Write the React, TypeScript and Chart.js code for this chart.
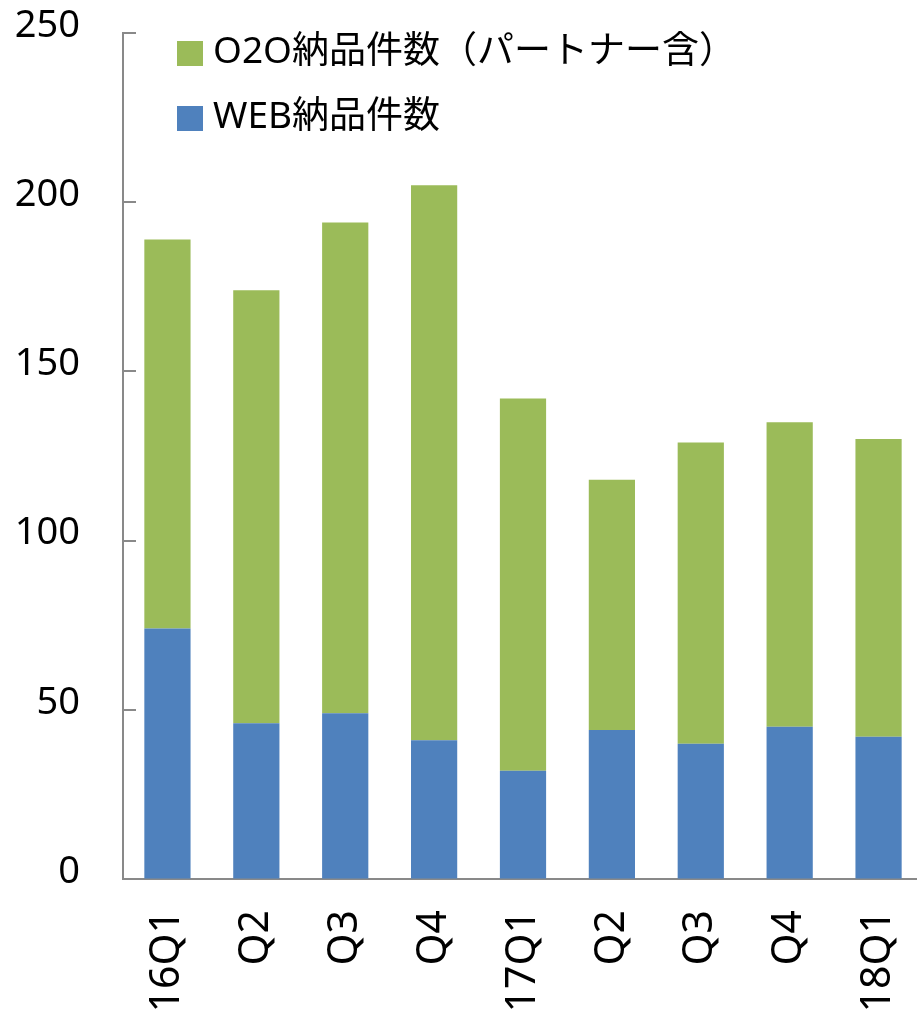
import React, { useEffect, useRef } from "react";
import { Chart, registerables } from "chart.js";

Chart.register(...registerables);

const categories = ["16Q1", "Q2", "Q3", "Q4", "17Q1", "Q2", "Q3", "Q4", "18Q1"];
const webValues = [74, 46, 49, 41, 32, 44, 40, 45, 42];
const o2oValues = [115, 128, 145, 164, 110, 74, 89, 90, 88];
const webLabel = "WEB納品件数";
const o2oLabel = "O2O納品件数（パートナー含）";
const webColor = "#4F81BD";
const o2oColor = "#9BBB59";
const axisColor = "#898989";

const legendPlugin = {
  id: "customLegend",
  afterDraw(chart: any) {
    const { ctx, chartArea } = chart;
    const items = [
      { label: o2oLabel, color: o2oColor },
      { label: webLabel, color: webColor },
    ];
    ctx.save();
    items.forEach((it, i) => {
      const boxX = chartArea.left + 54;
      const boxY = chartArea.top + 8 + i * 65;
      ctx.fillStyle = it.color;
      ctx.fillRect(boxX, boxY, 26, 25);
      ctx.fillStyle = "#000";
      ctx.font = "37px 'Noto Sans', 'Noto Sans CJK JP'";
      ctx.textBaseline = "middle";
      ctx.textAlign = "left";
      ctx.fillText(it.label, boxX + 36, boxY + 11);
    });
    ctx.restore();
  },
};

const innerTicksPlugin = {
  id: "innerTicks",
  afterDatasetsDraw(chart: any) {
    const { ctx, scales, chartArea } = chart;
    const y = scales.y;
    ctx.save();
    ctx.strokeStyle = axisColor;
    ctx.lineWidth = 2;
    y.ticks.forEach((t: any) => {
      const py = Math.round(y.getPixelForValue(t.value));
      ctx.beginPath();
      ctx.moveTo(chartArea.left, py);
      ctx.lineTo(chartArea.left + 13, py);
      ctx.stroke();
    });
    ctx.restore();
  },
};

export default function App() {
  const ref = useRef<HTMLCanvasElement>(null);
  useEffect(() => {
    if (!ref.current) return;
    const chart = new Chart(ref.current, {
      type: "bar",
      data: {
        labels: categories,
        datasets: [
          {
            label: webLabel,
            data: webValues,
            backgroundColor: webColor,
            borderWidth: 0,
            barPercentage: 0.52,
            categoryPercentage: 1,
          },
          {
            label: o2oLabel,
            data: o2oValues,
            backgroundColor: o2oColor,
            borderWidth: 0,
            barPercentage: 0.52,
            categoryPercentage: 1,
          },
        ],
      },
      options: {
        responsive: false,
        animation: false,
        layout: { padding: { top: 33, left: 0, right: 0, bottom: 0 } },
        plugins: { legend: { display: false }, tooltip: { enabled: false } },
        scales: {
          x: {
            stacked: true,
            grid: { display: true, color: "transparent", drawTicks: false },
            border: { display: true, color: axisColor, width: 2 },
            ticks: {
              minRotation: 90,
              maxRotation: 90,
              padding: 31,
              color: "#000",
              font: { family: "'Noto Sans'", size: 41 },
            },
            afterFit: (s: any) => {
              s.height = 140;
              s.paddingLeft = 0;
              s.paddingRight = 0;
            },
          },
          y: {
            stacked: true,
            min: 0,
            max: 250,
            grid: { display: true, color: "transparent", drawTicks: false },
            border: { display: true, color: axisColor, width: 2 },
            ticks: {
              stepSize: 50,
              padding: 43,
              labelOffset: -7,
              color: "#000",
              font: { family: "'Noto Sans'", size: 38 },
            },
            afterFit: (s: any) => {
              s.width = 123;
              s.paddingTop = 0;
              s.paddingBottom = 0;
            },
          },
        },
      },
      plugins: [legendPlugin, innerTicksPlugin],
    });
    return () => chart.destroy();
  }, []);
  return (
    <div
      style={{
        position: "fixed",
        left: 0,
        top: 0,
        width: 917,
        height: 1019,
        overflow: "hidden",
        background: "#fff",
      }}
    >
      <canvas ref={ref} width={923} height={1019} style={{ display: "block" }} />
    </div>
  );
}
